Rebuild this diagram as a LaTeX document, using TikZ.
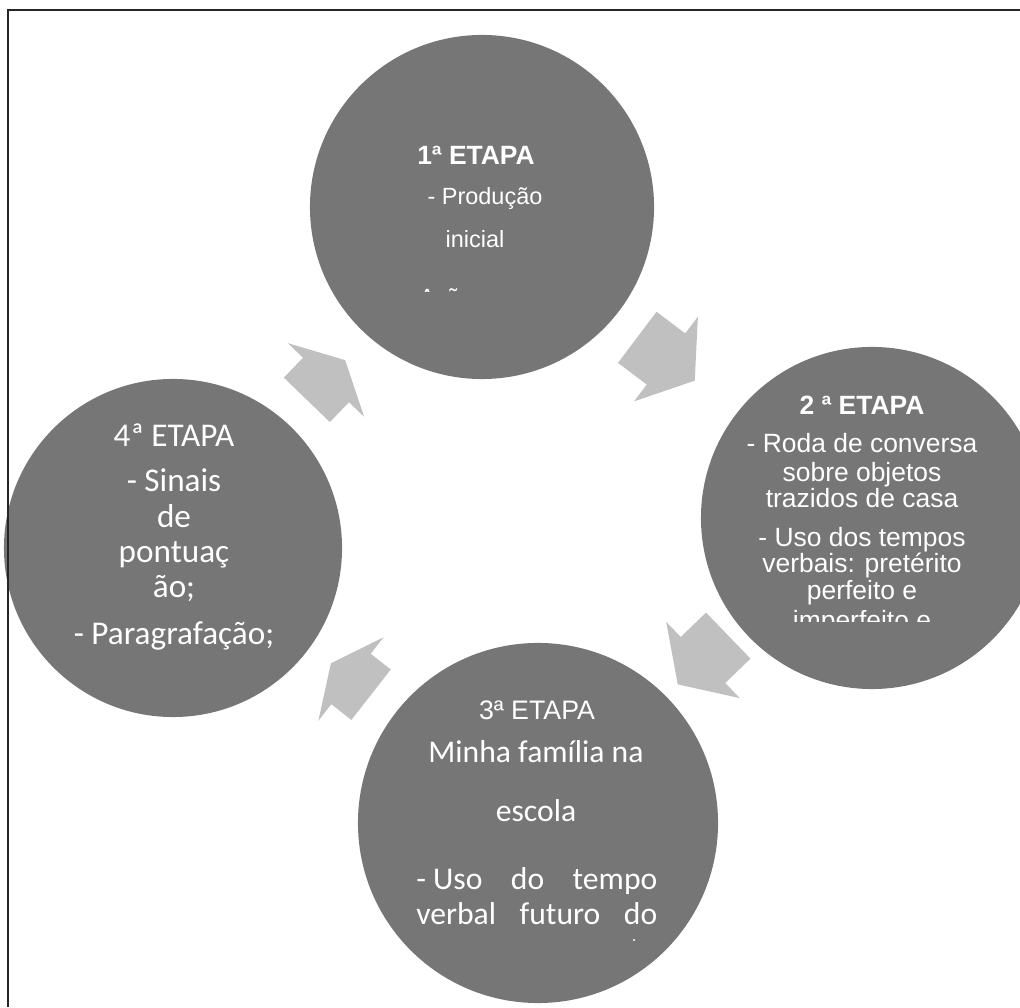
\documentclass[tikz,border=0pt]{standalone}
\usepackage{fontspec}
\setmainfont{Liberation Sans}
\newfontfamily\calibri{Carlito}
\definecolor{stagegray}{RGB}{118,118,118}
\definecolor{arrowgray}{RGB}{192,192,192}
\tikzset{
  stage/.style={circle, fill=stagegray, inner sep=0pt},
  txt/.style={text=white, anchor=base, inner sep=0pt},
  arial/.style={font=\fontsize{16.7}{20}\selectfont},
  arialhd/.style={font=\bfseries\fontsize{18.8}{22}\selectfont},
  arialsm/.style={font=\fontsize{18.8}{22}\selectfont},
  calib/.style={font=\calibri\fontsize{23.6}{28}\selectfont},
  calibbig/.style={font=\calibri\fontsize{22.5}{27}\selectfont},
  blockarrow/.pic={\fill[arrowgray] (-30,-32) -- (0,-32) -- (0,-53) -- (30,0) -- (0,53) -- (0,32) -- (-30,32) -- cycle;}
}
\begin{document}
\begin{tikzpicture}[x=0.025cm, y=0.025cm]
\useasboundingbox (0,0) rectangle (1020,1007);
% the four stages
\node[stage, minimum size=8.6cm] (e1) at (482,800) {};
\node[stage, minimum size=8.55cm] (e2) at (872,489) {};
\node[stage, minimum size=9cm] (e3) at (538,184) {};
\node[stage, minimum size=8.45cm] (e4) at (173,459) {};
% arrows between the stages
\pic[rotate=46, xscale=0.92] (a41) at (326,627) {blockarrow};
\pic[rotate=-37, xscale=1.2] (a12) at (666,648) {blockarrow};
\pic[rotate=224, xscale=1.17] (a23) at (703,347) {blockarrow};
\pic[rotate=142, xscale=0.85] (a34) at (351,328) {blockarrow};
% 1a etapa
\node[txt, arialhd] (t1a) at (476,842) {1ª ETAPA};
\node[txt, arial] (t1b) at (485,802) {- Produção};
\node[txt, arial] (t1c) at (475,759) {inicial};
\begin{scope}
  \clip (300,715) rectangle (640,760);
  \node[txt, arial, anchor=base west] (t1d) at (419,701) {Ação};
\end{scope}
% 2a etapa
\node[txt, arialhd] (t2a) at (862,592) {2 ª ETAPA};
\foreach \y/\t [count=\i] in {554/- Roda de conversa, 525/sobre objetos, 499/trazidos de casa,
    460/- Uso dos tempos, 434/verbais: pretérito, 407/perfeito e}
  \node[txt, arialsm] (t2-\i) at (862,\y) {\t};
\begin{scope}
  \clip (700,385) rectangle (1020,400);
  \node[txt, arialsm] (t2z) at (862,377) {imperfeito e};
\end{scope}
% 3a etapa
\node[txt, font=\fontsize{19}{23}\selectfont] (t3a) at (537,287) {3ª ETAPA};
\node[txt, calibbig] (t3b) at (536,244) {Minha família na};
\node[txt, calibbig] (t3c) at (536,185) {escola};
\node[txt, calibbig, anchor=base west] (t3d) at (416,117) {\makebox[6.025cm][l]{-~Uso\hfill do\hfill tempo}};
\node[txt, calibbig, anchor=base west] (t3e) at (416,82) {\makebox[6.025cm][l]{verbal\hfill futuro\hfill do}};
\fill[white] (634,67) circle (1.2);
% 4a etapa
\foreach \y/\t [count=\i] in {560/4ª ETAPA, 515/- Sinais, 479/de, 444/pontuaç, 409/ão;, 362/- Paragrafação;}
  \node[txt, calib] (t4-\i) at (174,\y) {\t};
% frame
\draw[line width=1.4pt, black!85] (1020,997) -- (8,997) -- (8,0);
\end{tikzpicture}
\end{document}
